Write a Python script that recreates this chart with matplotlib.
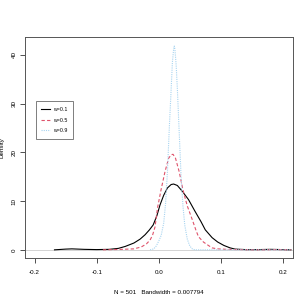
import matplotlib
matplotlib.use("Agg")
import matplotlib.pyplot as plt
import numpy as np

# Density curves
x_w01 = [-0.168, -0.15, -0.14, -0.12, -0.10, -0.08, -0.065, -0.054, -0.04, -0.030, -0.022, -0.015, -0.009,
         -0.003, 0.002, 0.008, 0.014, 0.020, 0.024, 0.030, 0.038, 0.048, 0.058, 0.068, 0.075, 0.086,
         0.095, 0.105, 0.115, 0.123, 0.14, 0.16, 0.18, 0.20, 0.213]
y_w01 = [0.0, 0.15, 0.2, 0.1, 0.05, 0.1, 0.3, 0.7, 1.4, 2.2, 3.1, 4.1, 5.1,
         7.0, 9.2, 11.2, 12.7, 13.4, 13.5, 13.2, 12.0, 10.3, 8.0, 5.8, 4.1, 2.5,
         1.6, 0.9, 0.4, 0.15, 0.05, 0.05, 0.1, 0.05, 0.0]

x_w05 = [-0.09, -0.06, -0.04, -0.028, -0.020, -0.014, -0.010, -0.006, -0.002, 0.004, 0.010, 0.016,
         0.020, 0.023, 0.027, 0.033, 0.039, 0.046, 0.054, 0.060, 0.064, 0.072, 0.080, 0.086, 0.095,
         0.11, 0.13, 0.15, 0.17, 0.19, 0.213]
y_w05 = [0.0, 0.1, 0.2, 0.6, 1.2, 2.0, 3.0, 4.7, 8.6, 12.5, 16.0, 18.8,
         19.5, 19.6, 18.8, 16.0, 12.3, 9.0, 6.2, 4.0, 2.7, 1.6, 0.9, 0.4, 0.2,
         0.1, 0.05, 0.0, 0.0, 0.05, 0.0]

x_w09 = [-0.014, -0.008, -0.004, 0.0, 0.004, 0.008, 0.011, 0.014, 0.017, 0.020, 0.022, 0.024,
         0.025, 0.026, 0.028, 0.030, 0.033, 0.036, 0.039, 0.042, 0.046, 0.050, 0.054, 0.058, 0.07,
         0.10, 0.15, 0.213]
y_w09 = [0.0, 0.2, 0.8, 1.8, 3.0, 5.5, 9.5, 16.0, 25.0, 33.0, 38.5, 41.2,
         41.8, 41.2, 38.0, 33.0, 24.0, 15.0, 9.0, 5.0, 2.2, 0.8, 0.2, 0.0, 0.0,
         0.0, 0.0, 0.0]

labels = ["w=0.1", "w=0.5", "w=0.9"]
x_ticks = [-0.2, -0.1, 0.0, 0.1, 0.2]
x_tick_labels = ["-0.2", "-0.1", "0.0", "0.1", "0.2"]
y_ticks = [0, 10, 20, 30, 40]
xlabel = "N = 501   Bandwidth = 0.007794"
ylabel = "Density"

plt.rcParams['font.family'] = ['Liberation Sans', 'DejaVu Sans']

fig = plt.figure(figsize=(3.05, 3.05), dpi=100)
ax = fig.add_axes([0.082, 0.154, 0.879, 0.725])

ax.axhline(0, color='#cccccc', lw=0.6, zorder=0)
ax.plot(x_w01, y_w01, color='black', lw=0.8, ls='-', label=labels[0])
ax.plot(x_w05, y_w05, color='#DF536B', lw=0.8, ls=(0, (3, 2)), label=labels[1])
ax.plot(x_w09, y_w09, color='#a8d4f0', lw=0.8, ls=(0, (1, 1)), label=labels[2])

ax.set_xlim(-0.2155, 0.2165)
ax.set_ylim(-1.68, 43.68)
ax.set_xticks(x_ticks)
ax.set_xticklabels(x_tick_labels)
ax.set_yticks(y_ticks)
ax.set_yticklabels([str(v) for v in y_ticks], rotation=90, va='center')
ax.tick_params(axis='both', direction='out', length=3.5, width=0.6, labelsize=4.5,
               color='#333333')
ax.tick_params(axis='x', pad=5)
ax.tick_params(axis='y', pad=2.5)
for s in ax.spines.values():
    s.set_linewidth(0.7)
    s.set_color('#555555')

ax.set_xlabel(xlabel, fontsize=4.5, labelpad=11)
ax.set_ylabel(ylabel, fontsize=4.5, labelpad=5)

leg = ax.legend(loc='upper left', bbox_to_anchor=(0.03, 0.72), fontsize=3.8, frameon=True,
                fancybox=False, handlelength=1.6, borderpad=1.1, labelspacing=1.0,
                handletextpad=0.6)
leg.get_frame().set_edgecolor('#444444')
leg.get_frame().set_linewidth(0.6)

fig.savefig('out.png', dpi=100)
